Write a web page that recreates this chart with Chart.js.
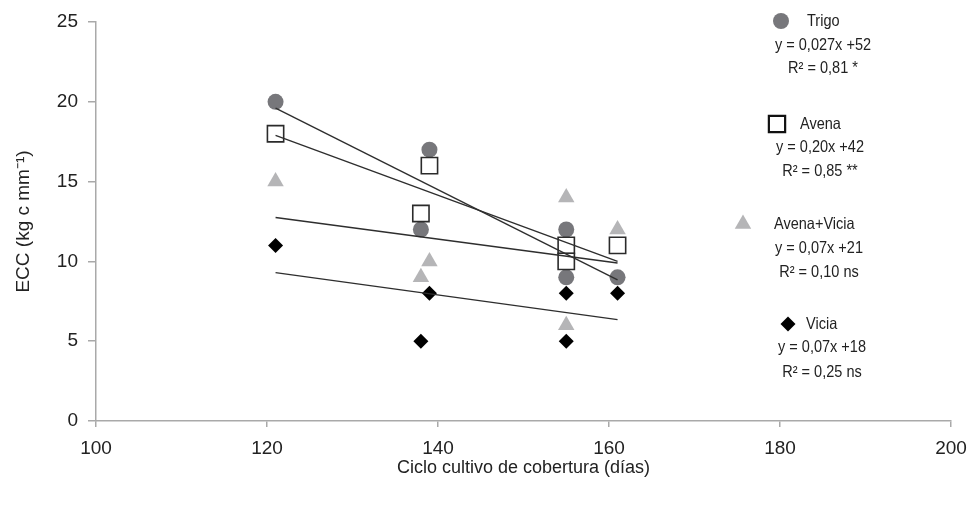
<!DOCTYPE html>
<html lang="es">
<head>
<meta charset="utf-8">
<title>ECC y ciclo del cultivo de cobertura</title>
<script src="https://cdn.jsdelivr.net/npm/chart.js@4.4.0/dist/chart.umd.min.js"></script>
<style>
    html, body { margin: 0; padding: 0; background: #fff; }
    #grafico { display: block; }
</style>
</head>
<body>
<canvas id="grafico" width="968" height="508"></canvas>
<script>
// valores
const dias = [121, 139, 138, 155, 155, 161];
const trigo = [20, 17, 12, 12, 9, 9];
const avena = [18, 16, 13, 11, 10, 11];
const avenaVicia = [15, 10, 9, 14, 6, 12];
const vicia = [11, 8, 5, 8, 5, 8];

// extremos de las rectas de ajuste
const tendDias = [121, 161];
const tendTrigo = [19.6, 8.85];
const tendAvena = [17.9, 10.0];
const tendAvenaVicia = [12.75, 9.9];
const tendVicia = [9.3, 6.35];

const ticksX = [100, 120, 140, 160, 180, 200];
const ticksY = [0, 5, 10, 15, 20, 25];

const nombres = ['Trigo', 'Avena', 'Avena+Vicia', 'Vicia'];
const ecuaciones = ['y = 0,027x +52', 'y = 0,20x +42', 'y = 0,07x +21', 'y = 0,07x +18'];
const ajustes = ['R² = 0,81 *', 'R² = 0,85 **', 'R² = 0,10 ns', 'R² = 0,25 ns'];

const fuente = '"Liberation Sans", Arial, sans-serif';
const gris = '#a9a9a9';

function puntos(xs, ys){
    return xs.map((x, i) => ({x: x, y: ys[i]}));
}

const estilos = [
    {pointStyle: 'circle', pointRadius: 8, backgroundColor: '#77777b', borderColor: '#77777b', borderWidth: 0},
    {pointStyle: 'rect', pointRadius: 11.5, backgroundColor: '#ffffff', borderColor: '#2b2b2b', borderWidth: 1.6},
    {pointStyle: 'triangle', pointRadius: 9.5, backgroundColor: '#b5b5b7', borderColor: '#b5b5b7', borderWidth: 0},
    {pointStyle: 'rectRot', pointRadius: 7.5, backgroundColor: '#000000', borderColor: '#000000', borderWidth: 0}
];

const series = [trigo, avena, avenaVicia, vicia];
const tendencias = [tendTrigo, tendAvena, tendAvenaVicia, tendVicia];

const datasets = [];

tendencias.forEach(function(t, i){
    datasets.push({
        label: 'ajuste ' + nombres[i],
        data: puntos(tendDias, t),
        showLine: true,
        borderColor: '#2e2e2e',
        borderWidth: 1.4,
        pointRadius: 0,
        fill: false
    });
});

// avena encima de trigo, como en el original
[1, 0, 2, 3].forEach(function(i){
    datasets.push(Object.assign({
        label: nombres[i],
        data: puntos(dias, series[i])
    }, estilos[i]));
});

// posiciones de la leyenda (texto a la derecha)
const leyenda = [
    {mx: 781, my: 21, tx: 807, cx: 823, ey: 45, ry: 68},
    {mx: 777, my: 124, tx: 800, cx: 820, ey: 147, ry: 171},
    {mx: 743, my: 224, tx: 774, cx: 819, ey: 248, ry: 272},
    {mx: 788, my: 324, tx: 806, cx: 822, ey: 347, ry: 372}
];

// texto algo angosto, como en la figura original
function textoAngosto(ctx, txt, x, y, alin){
    const k = 0.88;
    ctx.save();
    ctx.translate(x, y);
    ctx.scale(k, 1);
    ctx.textAlign = alin;
    ctx.fillText(txt, 0, 0);
    ctx.restore();
}

const pluginLeyenda = {
    id: 'leyendaEcuaciones',
    afterDraw(chart){
        const ctx = chart.ctx;
        ctx.save();
        leyenda.forEach(function(p, i){
            const e = estilos[i];
            ctx.fillStyle = e.backgroundColor;
            ctx.strokeStyle = i == 1 ? '#111' : e.borderColor;
            ctx.lineWidth = i == 1 ? 2.2 : e.borderWidth;
            Chart.helpers.drawPoint(ctx, {
                pointStyle: e.pointStyle,
                radius: e.pointRadius,
                rotation: 0,
                borderWidth: e.borderWidth
            }, p.mx, p.my);

            ctx.fillStyle = '#222';
            ctx.textBaseline = 'middle';
            ctx.font = '16.5px ' + fuente;
            textoAngosto(ctx, nombres[i], p.tx, p.my, 'left');
            textoAngosto(ctx, ecuaciones[i], p.cx, p.ey, 'center');
            textoAngosto(ctx, ajustes[i], p.cx, p.ry, 'center');
        });
        ctx.restore();
    }
};

new Chart(document.getElementById('grafico'), {
    type: 'scatter',
    data: {datasets: datasets},
    plugins: [pluginLeyenda],
    options: {
        responsive: false,
        animation: false,
        layout: {padding: {left: 0, right: 17, top: 22, bottom: 0}},
        plugins: {
            legend: {display: false},
            tooltip: {enabled: false}
        },
        scales: {
            x: {
                type: 'linear',
                min: 100,
                max: 200,
                afterBuildTicks: s => { s.ticks = ticksX.map(v => ({value: v})); },
                afterFit: s => {
                    s.height = 87;
                    s.paddingLeft = 0;
                    s.paddingRight = 0;
                },
                grid: {display: true, drawOnChartArea: false, drawTicks: true, tickLength: 6, color: gris, lineWidth: 1.5},
                border: {display: true, color: gris, width: 1.5},
                ticks: {color: '#222', padding: 10, font: {family: fuente, size: 19}},
                title: {
                    display: true,
                    text: 'Ciclo cultivo de cobertura (días)',
                    color: '#222',
                    font: {family: fuente, size: 18},
                    padding: {top: 0, bottom: 29}
                }
            },
            y: {
                type: 'linear',
                min: 0,
                max: 25,
                afterBuildTicks: s => { s.ticks = ticksY.map(v => ({value: v})); },
                afterFit: s => { s.width = 96; },
                grid: {display: true, drawOnChartArea: false, drawTicks: true, tickLength: 8, color: gris, lineWidth: 1.5},
                border: {display: true, color: gris, width: 1.5},
                ticks: {color: '#222', padding: 10, font: {family: fuente, size: 19}},
                title: {
                    display: true,
                    text: 'ECC (kg c mm⁻¹)',
                    color: '#222',
                    font: {family: fuente, size: 19},
                    padding: {top: 12, bottom: 0}
                }
            }
        }
    }
});
</script>
</body>
</html>
